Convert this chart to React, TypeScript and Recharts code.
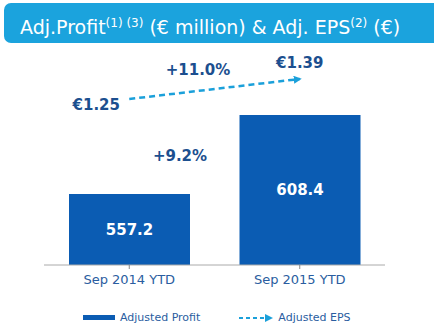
import { BarChart, Bar, Line, XAxis, YAxis, LabelList } from 'recharts';

const periods = ['Sep 2014 YTD', 'Sep 2015 YTD'];
const adjustedProfit = [557.2, 608.4];
const adjustedEps = [1.25, 1.39];
const epsLabels = ['€1.25', '€1.39'];
const growthLabels = ['+11.0%', '+9.2%'];

const data = periods.map((p, i) => ({ period: p, profit: adjustedProfit[i], eps: adjustedEps[i] }));

const BAR = '#0b5cb3';
const CYAN = '#1ba0da';
const NAVY = '#1c4f8f';
const FONT = '"DejaVu Sans", Verdana, sans-serif';

const EpsLabel = (props: any) => {
  const { x, y, index } = props;
  const dx = index === 0 ? -33 : 0;
  const dy = index === 0 ? 6 : -16;
  return (
    <text x={x + dx} y={y + dy} textAnchor="middle" dominantBaseline="middle" fill={NAVY} fontSize={15} fontWeight="bold" fontFamily={FONT}>
      {epsLabels[index]}
    </text>
  );
};

export default function App() {
  return (
    <div style={{ position: 'relative', width: 434, height: 333, background: '#fff', overflow: 'hidden', fontFamily: FONT }}>
      <style>{`body{margin:0}`}</style>
      <svg width="0" height="0" style={{ position: 'absolute' }}>
        <defs>
          <marker id="epsArrow" markerWidth="8" markerHeight="8" refX="6" refY="4" orient="auto" markerUnits="userSpaceOnUse">
            <path d="M0,0 L8,4 L0,8 z" fill={CYAN} />
          </marker>
        </defs>
      </svg>

      <div style={{ position: 'absolute', left: 4, top: 3, width: 450, height: 40, borderRadius: 7, background: '#1ba3dd', color: '#fff', fontSize: 19, lineHeight: '40px', paddingLeft: 16, whiteSpace: 'nowrap', boxSizing: 'border-box' }}>
        Adj.Profit<sup style={{ fontSize: 12 }}>(1) (3)</sup> (€ million) &amp; Adj. EPS<sup style={{ fontSize: 12 }}>(2)</sup> (€)
      </div>

      <BarChart width={434} height={333} data={data} margin={{ top: 55, right: 49, bottom: 38, left: 44 }} barCategoryGap={25}>
        <XAxis dataKey="period" height={30} stroke="#aaa" tickLine={{ stroke: '#888' }} tickSize={4}
          tick={{ fill: '#2a5da0', fontSize: 13, fontFamily: FONT }} tickMargin={6} />
        <YAxis yAxisId="profit" hide domain={[511.2, 647.3]} />
        <YAxis yAxisId="eps" hide orientation="right" domain={[0.088, 1.558]} />
        <Bar yAxisId="profit" dataKey="profit" fill={BAR} barSize={121} isAnimationActive={false}>
          <LabelList dataKey="profit" position="center" fill="#fff" fontSize={15} fontWeight="bold" fontFamily={FONT} />
        </Bar>
        <Line yAxisId="eps" dataKey="eps" stroke={CYAN} strokeWidth={2.5} strokeDasharray="6 4" dot={false} activeDot={false}
          markerEnd="url(#epsArrow)" isAnimationActive={false}>
          <LabelList dataKey="eps" content={EpsLabel} />
        </Line>
      </BarChart>

      <div style={{ position: 'absolute', left: 198, top: 70, transform: 'translate(-50%,-50%)', color: NAVY, fontSize: 15, fontWeight: 'bold' }}>{growthLabels[0]}</div>
      <div style={{ position: 'absolute', left: 180, top: 156, transform: 'translate(-50%,-50%)', color: NAVY, fontSize: 15, fontWeight: 'bold' }}>{growthLabels[1]}</div>

      <div style={{ position: 'absolute', top: 311, left: 83, display: 'flex', alignItems: 'center', fontSize: 11, color: '#2a5da0', whiteSpace: 'nowrap' }}>
        <span style={{ display: 'inline-block', width: 32, height: 5, background: BAR, marginRight: 5 }} />
        <span>Adjusted Profit</span>
        <svg width={34} height={10} style={{ marginLeft: 39, marginRight: 5 }}>
          <line x1={0} y1={5} x2={27} y2={5} stroke={CYAN} strokeWidth={2} strokeDasharray="4 3" />
          <path d="M26,1 L34,5 L26,9 z" fill={CYAN} />
        </svg>
        <span>Adjusted EPS</span>
      </div>
    </div>
  );
}
